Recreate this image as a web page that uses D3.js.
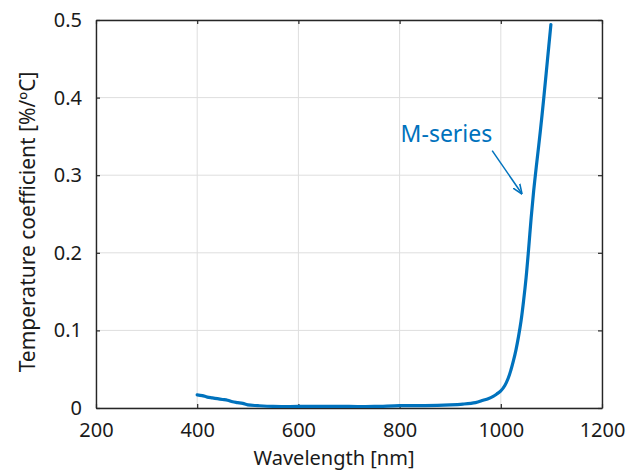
<!DOCTYPE html>
<html>
<head>
<meta charset="utf-8">
<script src="https://cdn.jsdelivr.net/npm/d3@7"></script>
<style>
  body { margin: 0; background: #fff; }
  text { font-family: "Noto Sans", "Open Sans", sans-serif; }
</style>
</head>
<body>
<div id="chart"></div>
<script>
// wavelength in nm
var wavelength = [400, 410, 420, 430, 440, 450, 460, 470, 480, 490, 500, 520, 550, 600, 650, 700, 750, 800,
  850, 900, 925, 950, 965, 975, 985, 992, 1000, 1008, 1015, 1020, 1025, 1030, 1035, 1040, 1045, 1050, 1055,
  1060, 1065, 1070, 1078, 1085, 1092, 1099];
// temperature coefficient, %/°C
var coefficient = [0.017, 0.016, 0.014, 0.013, 0.012, 0.011, 0.010, 0.008, 0.007, 0.006, 0.004, 0.003, 0.002,
  0.002, 0.002, 0.002, 0.002, 0.003, 0.003, 0.004, 0.005, 0.007, 0.010, 0.012, 0.015, 0.018, 0.022, 0.029,
  0.039, 0.049, 0.061, 0.075, 0.092, 0.112, 0.138, 0.168, 0.205, 0.245, 0.280, 0.310, 0.356, 0.400, 0.447, 0.494];

var xTicks = [200, 400, 600, 800, 1000, 1200];
var yTicks = [0, 0.1, 0.2, 0.3, 0.4, 0.5];
var seriesName = "M-series";
var blue = "#0072BD";

var width = 628, height = 472;
var margin = {top: 20, right: 26, bottom: 64, left: 96};
var w = width - margin.left - margin.right,
    h = height - margin.top - margin.bottom;

var svg = d3.select("#chart").append("svg")
  .attr("width", width)
  .attr("height", height);

var g = svg.append("g")
  .attr("transform", "translate(" + margin.left + "," + margin.top + ")");

var x = d3.scaleLinear().domain([200, 1200]).range([0, w]);
var y = d3.scaleLinear().domain([0, 0.5]).range([h, 0]);

// grid
g.append("g").selectAll("line").data(xTicks).enter().append("line")
  .attr("x1", function(d) { return x(d); }).attr("x2", function(d) { return x(d); })
  .attr("y1", 0).attr("y2", h)
  .attr("stroke", "#dedede").attr("stroke-width", 1);
g.append("g").selectAll("line").data(yTicks).enter().append("line")
  .attr("y1", function(d) { return y(d); }).attr("y2", function(d) { return y(d); })
  .attr("x1", 0).attr("x2", w)
  .attr("stroke", "#dedede").attr("stroke-width", 1);

// axes (ticks inward)
var fmtY = function(d) { return d === 0 ? "0" : d3.format(".1f")(d); };
var xAxis = g.append("g").attr("transform", "translate(0," + h + ")")
  .call(d3.axisBottom(x).tickValues(xTicks).tickSizeInner(-4).tickSizeOuter(0).tickPadding(15).tickFormat(d3.format("d")));
var xTop = g.append("g")
  .call(d3.axisTop(x).tickValues(xTicks).tickSizeInner(-4).tickSizeOuter(0).tickFormat(""));
var yAxis = g.append("g")
  .call(d3.axisLeft(y).tickValues(yTicks).tickSizeInner(-4).tickSizeOuter(0).tickPadding(14).tickFormat(fmtY));
var yRight = g.append("g").attr("transform", "translate(" + w + ",0)")
  .call(d3.axisRight(y).tickValues(yTicks).tickSizeInner(-4).tickSizeOuter(0).tickFormat(""));

[xAxis, xTop, yAxis, yRight].forEach(function(a) {
  a.selectAll("path").attr("stroke", "#262626").attr("stroke-width", 1.4);
  a.selectAll("line").attr("stroke", "#262626").attr("stroke-width", 1.2);
  a.selectAll("text").attr("fill", "#1a1a1a").style("font-size", "20px")
    .style("font-family", "'Noto Sans', 'Open Sans', sans-serif");
});

// line
var line = d3.line()
  .x(function(d) { return x(d[0]); })
  .y(function(d) { return y(d[1]); })
  .curve(d3.curveCatmullRom.alpha(0.5));

g.append("path")
  .datum(d3.zip(wavelength, coefficient))
  .attr("fill", "none")
  .attr("stroke", blue)
  .attr("stroke-width", 3.2)
  .attr("stroke-linejoin", "round")
  .attr("stroke-linecap", "round")
  .attr("d", line);

// annotation
svg.append("defs").append("marker")
  .attr("id", "arrow")
  .attr("viewBox", "0 0 10 10")
  .attr("refX", 9).attr("refY", 5)
  .attr("markerWidth", 10).attr("markerHeight", 10)
  .attr("markerUnits", "userSpaceOnUse")
  .attr("orient", "auto")
  .append("path")
  .attr("d", "M0,1 L10,5 L0,9")
  .attr("fill", "none")
  .attr("stroke", blue)
  .attr("stroke-width", 1.6);

g.append("text")
  .attr("x", x(802)).attr("y", y(0.343))
  .attr("fill", blue)
  .style("font-size", "23px")
  .text(seriesName);

g.append("line")
  .attr("x1", x(983)).attr("y1", y(0.3316))
  .attr("x2", x(1041)).attr("y2", y(0.2767))
  .attr("stroke", blue)
  .attr("stroke-width", 1.5)
  .attr("marker-end", "url(#arrow)");

// titles
svg.append("text")
  .attr("x", margin.left + w / 2 - 15).attr("y", 465)
  .attr("text-anchor", "middle")
  .attr("fill", "#1a1a1a")
  .style("font-size", "20px")
  .text("Wavelength [nm]");

svg.append("text")
  .attr("transform", "translate(35,222) rotate(-90)")
  .attr("text-anchor", "middle")
  .attr("fill", "#1a1a1a")
  .style("font-size", "21px")
  .text("Temperature coefficient [%/ºC]");
</script>
</body>
</html>
